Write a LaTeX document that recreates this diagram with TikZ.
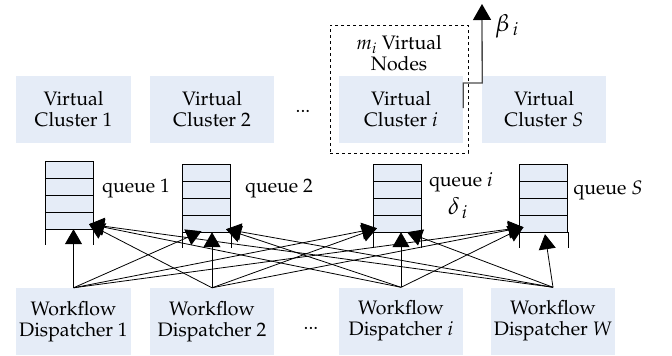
\documentclass[tikz,border=0pt]{standalone}
\usepackage[T1]{fontenc}
\usepackage{mathpazo}
\usetikzlibrary{arrows.meta}
\definecolor{boxblue}{RGB}{229,236,247}

\begin{document}
\begin{tikzpicture}[x=1pt,y=-1pt,>={Triangle[length=15pt,width=17pt]},
  font=\fontsize{19.5}{21}\selectfont]
\tikzset{
  unit/.style={fill=boxblue,align=center,minimum height=67pt,inner sep=0pt},
  qbox/.style={draw,fill=boxblue,minimum width=48pt,minimum height=68pt,inner sep=0pt},
  link/.style={->,line width=0.8pt},
  sym/.style={font=\fontsize{24}{26}\selectfont,inner sep=1pt}
}
\useasboundingbox (0,0) rectangle (672,356);

% virtual clusters
\node[unit,minimum width=115pt] (vc1) at (73.5,109.5) {Virtual\\Cluster 1};
\node[unit,minimum width=124pt] (vc2) at (212,109.5) {Virtual\\Cluster 2};
\node (dots1) at (303,111) {...};
\node[unit,minimum width=124pt] (vci) at (401,109.5) {Virtual\\Cluster $i$};
\node[unit,minimum width=124pt] (vcs) at (544,109.5) {Virtual\\Cluster $S$};

\node[draw,dashed,line width=0.9pt,minimum width=138pt,minimum height=128pt] (grp) at (399,89) {};
\node[align=center] (mnodes) at (399,53) {$m_i$ Virtual\\Nodes};

\coordinate (out) at (482,4);
\draw[gray!60!black,line width=1.3pt,-{Triangle[length=16pt,width=18pt,color=black]}]
  ([yshift=1.5pt]vci.east) -- ++(0,-25) -- ++(19,0) -- (out);
\node[sym] (beta) at (507,26) {$\beta_{\,i}$};

% queues
\node[qbox] (q1) at (69,195) {};
\node[qbox] (q2) at (206.5,198) {};
\node[qbox] (qi) at (397,198) {};
\node[qbox] (qs) at (543.5,198) {};
\foreach \q in {q1,q2,qi,qs} {
  \foreach \d in {17,34,51}
    \draw ([yshift=-\d pt]\q.north west) -- ([yshift=-\d pt]\q.north east);
  \draw (\q.south west) -- ++(0,16);
  \draw (\q.south east) -- ++(0,16);
}
\node (lq1) at (136,188) {queue 1};
\node (lq2) at (279,188) {queue 2};
\node (lqi) at (461,182) {queue $i$};
\node[sym] (delta) at (458,208) {$\delta_{\,i}$};
\node (lqs) at (608,190) {queue $S$};

% dispatchers
\node[unit,minimum width=115pt] (wd1) at (73.5,321.5) {Workflow\\Dispatcher 1};
\node[unit,minimum width=124pt] (wd2) at (212,321.5) {Workflow\\Dispatcher 2};
\node (dots2) at (311,328) {...};
\node[unit,minimum width=124pt] (wdi) at (401,321) {Workflow\\Dispatcher $i$};
\node[unit,minimum width=124pt] (wdw) at (553,321) {Workflow\\Dispatcher $W$};

% links dispatcher -> queue
\draw[link] (wd1.north) -- (wd1.north |- q1.south);
\draw[link] (wd1.north) -- ([xshift=-5pt,yshift=1pt]q2.south);
\draw[link] (wd1.north) -- ([xshift=-20pt,yshift=4pt]qi.south);
\draw[link] (wd1.north) -- ([xshift=-20pt,yshift=5pt]qs.south);

\draw[link] (wd2.north) -- ([xshift=20pt,yshift=5pt]q1.south);
\draw[link] (wd2.north) -- (wd2.north |- q2.south);
\draw[link] (wd2.north) -- ([xshift=-20pt,yshift=4pt]qi.south);
\draw[link] (wd2.north) -- ([xshift=-20pt,yshift=5pt]qs.south);

\draw[link] (wdi.north) -- ([xshift=20pt,yshift=5pt]q1.south);
\draw[link] (wdi.north) -- ([xshift=19.5pt,yshift=3pt]q2.south);
\draw[link] (wdi.north) -- (wdi.north |- qi.south);
\draw[link] (wdi.north) -- ([xshift=-20pt,yshift=5pt]qs.south);

\draw[link] (wdw.north) -- ([xshift=20pt,yshift=5pt]q1.south);
\draw[link] (wdw.north) -- ([xshift=19.5pt,yshift=3pt]q2.south);
\draw[link] (wdw.north) -- ([xshift=10pt]qi.south);
\draw[link] (wdw.north) -- ([xshift=1.5pt,yshift=-2pt]qs.south);

\end{tikzpicture}
\end{document}
